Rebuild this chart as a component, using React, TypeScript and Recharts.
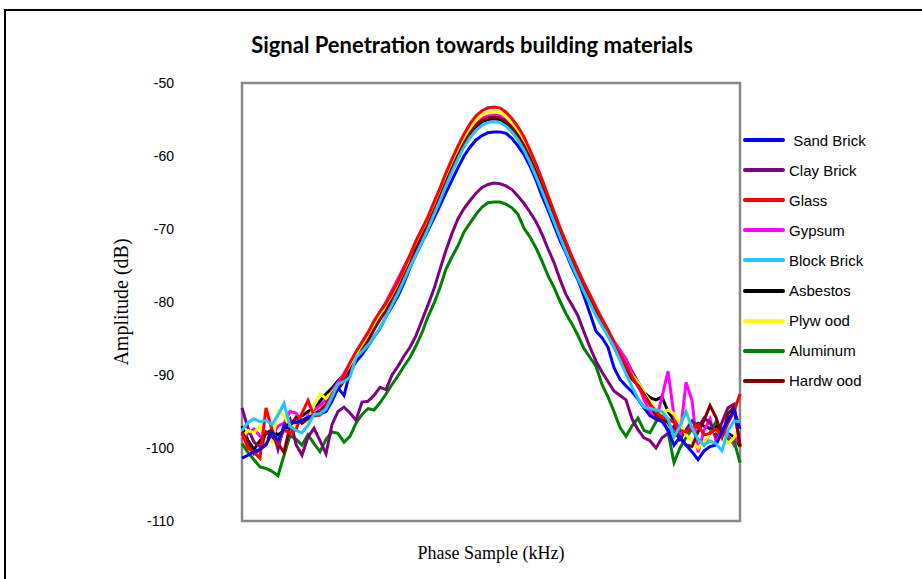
import React from 'react';
import { LineChart, Line, XAxis, YAxis, ReferenceArea, Label } from 'recharts';

// Sample index along the phase axis (84 samples)
const samples: number[] = Array.from({ length: 84 }, (_, i) => i);

const yTicks = [-50, -60, -70, -80, -90, -100, -110];

const sandBrick = [
  -101.4, -101.0, -100.5, -100.2, -99.6, -97.8, -99.0, -97.2, -96.6, -96.5, -96.2, -95.8,
  -95.5, -95.3, -95.0, -93.6, -91.8, -92.8, -89.6, -88.2, -87.2, -86.0, -84.8, -83.6,
  -82.0, -80.6, -79.2, -77.4, -75.3, -73.5, -71.8, -70.2, -68.5, -66.8, -65.0, -63.3,
  -61.6, -60.0, -58.8, -57.8, -57.2, -56.8, -56.7, -56.7, -56.9, -57.6, -58.6, -59.8,
  -61.4, -63.3, -65.5, -67.4, -69.5, -71.6, -73.3, -75.3, -77.0, -79.2, -81.6, -84.0,
  -84.9, -86.2, -89.0, -90.6, -91.5, -92.3, -93.3, -94.5, -95.6, -96.0, -96.4, -97.5,
  -99.6, -98.5, -99.6, -100.5, -101.6, -100.4, -99.8, -99.6, -97.8, -96.2, -94.8, -97.4,
];

const clayBrick = [
  -94.5, -97.3, -99.2, -99.8, -99.5, -97.3, -100.2, -96.8, -96.0, -99.5, -101.0, -98.5,
  -97.3, -99.0, -100.8, -96.8, -95.0, -94.4, -95.2, -96.2, -93.7, -93.6, -92.8, -91.7,
  -92.0, -90.0, -88.8, -87.4, -86.2, -84.6, -82.5, -80.4, -78.2, -75.5, -72.9, -70.6,
  -68.6, -67.2, -66.1, -65.1, -64.3, -63.9, -63.7, -63.8, -64.1, -64.6, -65.5, -66.5,
  -67.7, -69.0, -70.7, -72.7, -74.6, -76.9, -79.0, -80.4, -81.9, -84.1, -86.2, -88.1,
  -89.6, -90.9, -92.2, -92.8, -93.4, -96.0, -97.5, -98.6, -99.0, -100.0, -98.6, -98.0,
  -97.0, -98.8, -97.5, -96.3, -97.2, -95.9, -96.5, -98.4, -96.5, -94.5, -94.0, -99.8,
];

const glass = [
  -98.0, -100.0, -100.6, -101.4, -94.5, -97.5, -99.4, -97.5, -98.0, -97.5, -95.2, -93.5,
  -95.6, -95.5, -94.5, -92.6, -91.5, -90.0, -88.3, -86.8, -85.5, -84.2, -82.6, -81.3,
  -80.2, -78.7, -77.2, -75.4, -73.6, -71.6, -70.0, -68.3, -66.3, -64.4, -62.3, -60.4,
  -58.6, -57.0, -55.6, -54.5, -53.8, -53.4, -53.3, -53.4, -54.0, -54.9, -56.0, -57.4,
  -59.2, -61.1, -63.2, -65.4, -67.6, -69.8, -71.8, -73.8, -75.6, -77.4, -79.0, -80.7,
  -82.3, -83.8, -85.5, -87.2, -88.6, -90.2, -91.6, -92.8, -94.0, -95.0, -95.8, -96.0,
  -96.5, -97.6, -97.8, -97.2, -96.8, -98.2, -98.0, -97.4, -98.4, -96.6, -95.0, -92.6,
];

const gypsum = [
  -98.8, -98.0, -97.4, -98.4, -99.2, -98.2, -97.0, -96.6, -95.0, -95.2, -96.4, -95.6,
  -94.8, -94.2, -93.4, -92.2, -91.0, -89.8, -88.4, -87.0, -85.6, -84.2, -82.8, -81.4,
  -80.0, -78.4, -76.8, -75.2, -73.6, -71.8, -70.1, -68.5, -66.8, -64.9, -62.9, -61.0,
  -59.3, -57.7, -56.4, -55.4, -54.8, -54.5, -54.4, -54.5, -55.0, -55.8, -56.9, -58.3,
  -60.0, -61.9, -63.9, -66.0, -68.1, -70.2, -72.2, -74.1, -75.9, -77.7, -79.3, -80.9,
  -82.5, -84.0, -85.4, -86.6, -87.8, -89.6, -91.2, -93.4, -95.0, -96.2, -93.0, -89.5,
  -95.6, -98.4, -91.0, -93.5, -100.6, -97.6, -96.0, -99.0, -97.2, -98.2, -99.6, -98.0,
];

const blockBrick = [
  -97.6, -96.5, -96.0, -96.4, -96.2, -96.8, -95.5, -93.9, -97.0, -97.6, -97.9, -96.9,
  -95.4, -95.3, -94.7, -93.0, -91.2, -90.9, -90.3, -87.6, -86.8, -85.9, -84.8, -83.5,
  -82.0, -80.4, -78.8, -77.0, -75.2, -73.5, -71.8, -70.0, -68.0, -66.1, -64.1, -62.2,
  -60.4, -58.8, -57.5, -56.5, -55.8, -55.4, -55.3, -55.4, -55.9, -56.7, -57.8, -59.2,
  -60.9, -62.8, -64.8, -66.9, -69.0, -71.1, -73.1, -75.0, -76.8, -78.6, -80.2, -81.9,
  -83.3, -84.7, -86.2, -88.0, -89.8, -91.6, -93.2, -94.4, -94.6, -94.8, -95.0, -96.0,
  -98.5, -97.0, -95.0, -97.2, -98.8, -99.6, -99.0, -99.4, -100.4, -97.6, -96.3, -96.4,
];

const asbestos = [
  -97.0, -99.0, -100.2, -99.0, -98.0, -97.5, -98.2, -97.6, -96.8, -96.0, -95.6, -95.0,
  -94.6, -93.6, -92.6, -91.8, -90.8, -90.0, -89.2, -87.8, -86.4, -85.1, -83.6, -82.2,
  -81.0, -79.6, -78.0, -76.3, -74.6, -72.6, -70.9, -69.2, -67.3, -65.4, -63.4, -61.5,
  -59.8, -58.3, -57.0, -56.0, -55.3, -55.0, -54.9, -55.0, -55.5, -56.3, -57.4, -58.8,
  -60.5, -62.4, -64.4, -66.5, -68.6, -70.7, -72.7, -74.6, -76.4, -78.2, -79.8, -81.4,
  -83.0, -84.4, -85.6, -86.8, -88.0, -89.5, -91.0, -92.4, -93.1, -93.4, -93.0, -95.0,
  -96.2, -97.5, -98.0, -97.2, -96.6, -97.0, -97.3, -97.0, -97.6, -98.0, -98.5, -99.8,
];

const plywood = [
  -98.5, -97.6, -97.9, -97.0, -99.0, -99.2, -95.0, -95.5, -97.2, -96.8, -96.0, -96.6,
  -94.2, -92.6, -93.2, -92.4, -91.4, -90.4, -88.9, -87.4, -86.0, -84.8, -83.2, -81.8,
  -80.7, -79.2, -77.7, -75.9, -74.2, -72.2, -70.5, -68.8, -66.9, -65.0, -62.9, -61.0,
  -59.2, -57.6, -56.2, -55.1, -54.4, -54.0, -53.9, -54.0, -54.6, -55.5, -56.6, -58.0,
  -59.8, -61.7, -63.8, -66.0, -68.2, -70.3, -72.3, -74.3, -76.1, -77.9, -79.5, -81.2,
  -82.8, -84.4, -85.9, -87.5, -88.8, -90.0, -91.0, -92.4, -93.6, -94.8, -95.2, -94.8,
  -95.3, -96.6, -98.2, -99.0, -100.0, -99.2, -98.0, -97.6, -98.2, -99.4, -98.6, -97.0,
];

const aluminum = [
  -99.4, -100.6, -101.6, -102.6, -102.8, -103.2, -103.8, -101.0, -98.3, -98.8, -99.6, -98.2,
  -99.4, -100.5, -98.8, -97.8, -98.0, -99.2, -98.4, -96.6, -95.4, -94.6, -94.8, -93.8,
  -92.6, -91.3, -90.1, -88.8, -87.6, -86.0, -84.2, -82.0, -80.2, -78.0, -75.5, -73.8,
  -72.3, -70.4, -69.2, -68.0, -67.0, -66.4, -66.3, -66.3, -66.6, -67.1, -68.0, -69.9,
  -71.1, -72.6, -74.4, -76.4, -78.0, -79.9, -81.6, -83.0, -84.6, -86.4, -87.6, -88.8,
  -91.3, -93.0, -95.0, -97.2, -98.4, -97.0, -95.9, -97.6, -97.9, -96.4, -95.6, -97.8,
  -102.0, -100.0, -98.6, -97.4, -98.8, -99.6, -97.9, -96.4, -97.5, -98.8, -99.0, -102.0,
];

const hardwood = [
  -97.8, -99.2, -100.8, -100.2, -97.8, -98.4, -99.4, -100.6, -97.0, -95.8, -96.6, -96.0,
  -95.4, -94.8, -94.0, -92.8, -92.0, -90.8, -89.4, -88.0, -86.6, -85.3, -83.8, -82.4,
  -81.2, -79.8, -78.3, -76.5, -74.8, -72.7, -71.0, -69.4, -67.5, -65.6, -63.6, -61.7,
  -59.9, -58.3, -56.9, -55.8, -55.1, -54.8, -54.7, -54.8, -55.3, -56.1, -57.2, -58.6,
  -60.3, -62.2, -64.2, -66.3, -68.5, -70.6, -72.6, -74.5, -76.3, -78.1, -79.7, -81.4,
  -83.1, -84.6, -86.2, -87.8, -89.4, -90.6, -91.4, -92.6, -94.0, -95.6, -96.0, -96.5,
  -98.0, -98.6, -99.6, -99.8, -97.8, -96.2, -94.2, -95.8, -98.4, -95.3, -94.4, -99.8,
];

const seriesNames = [
  'Sand Brick', 'Clay Brick', 'Glass', 'Gypsum', 'Block Brick',
  'Asbestos', 'Plywood', 'Aluminum', 'Hardwood',
];

const seriesDefs = [
  { key: 'sandBrick', name: seriesNames[0], legendLabel: ' Sand Brick', color: '#0000FF', values: sandBrick },
  { key: 'clayBrick', name: seriesNames[1], legendLabel: 'Clay Brick', color: '#800080', values: clayBrick },
  { key: 'glass', name: seriesNames[2], legendLabel: 'Glass', color: '#FF0000', values: glass },
  { key: 'gypsum', name: seriesNames[3], legendLabel: 'Gypsum', color: '#FF00FF', values: gypsum },
  { key: 'blockBrick', name: seriesNames[4], legendLabel: 'Block Brick', color: '#1EC8FF', values: blockBrick },
  { key: 'asbestos', name: seriesNames[5], legendLabel: 'Asbestos', color: '#000000', values: asbestos },
  { key: 'plywood', name: seriesNames[6], legendLabel: 'Plyw ood', color: '#FFFF00', values: plywood },
  { key: 'aluminum', name: seriesNames[7], legendLabel: 'Aluminum', color: '#008000', values: aluminum },
  { key: 'hardwood', name: seriesNames[8], legendLabel: 'Hardw ood', color: '#800000', values: hardwood },
];

const drawOrder = ['asbestos', 'gypsum', 'aluminum', 'clayBrick', 'plywood', 'hardwood', 'glass', 'sandBrick', 'blockBrick'];

const data = samples.map((i) => {
  const row: Record<string, number> = { i };
  seriesDefs.forEach((s) => {
    row[s.key] = s.values[i];
  });
  return row;
});

const sansFont = '"Liberation Sans", Arial, sans-serif';
const serifFont = '"Liberation Serif", "Times New Roman", serif';

const ChartLegend = () => (
  <div style={{ position: 'absolute', left: 743, top: 125, width: 175, fontFamily: sansFont, fontSize: 15, color: '#000' }}>
    {seriesDefs.map((s) => (
      <div key={s.key} style={{ display: 'flex', alignItems: 'center', height: 30.1 }}>
        <div style={{ width: 42, height: 4, background: s.color, borderRadius: 2, marginRight: 4 }} />
        <span style={{ whiteSpace: 'pre' }}>{s.legendLabel}</span>
      </div>
    ))}
  </div>
);

export default function App() {
  return (
    <div style={{ position: 'absolute', left: 0, top: 0, width: 922, height: 579, background: '#fff', overflow: 'hidden' }}>
      <div
        style={{
          position: 'absolute', left: 4, top: 9, width: 1000, height: 700,
          borderTop: '2px solid #000', borderLeft: '2px solid #000',
        }}
      />
      <div
        style={{
          position: 'absolute', left: 0, top: 31, width: 944, textAlign: 'center',
          fontFamily: 'Lato, "Open Sans", sans-serif', fontWeight: 700, fontSize: 22, color: '#000',
        }}
      >
        Signal Penetration towards building materials
      </div>
      <div style={{ position: 'absolute', left: 0, top: 0 }}>
        <LineChart width={922} height={579} data={data} margin={{ top: 83, right: 182, bottom: 0, left: 0 }}>
          <XAxis
            type="number"
            dataKey="i"
            domain={[0, 83]}
            tick={false}
            axisLine={false}
            tickLine={false}
            height={58}
          >
            <Label
              value="Phase Sample (kHz)"
              position="center"
              dy={3}
              style={{ fontFamily: serifFont, fontSize: 18, fill: '#000' }}
            />
          </XAxis>
          <YAxis
            type="number"
            domain={[-110, -50]}
            ticks={yTicks}
            width={242}
            axisLine={false}
            tickLine={false}
            tickMargin={62}
            tick={{ fontFamily: sansFont, fontSize: 14, fill: '#000' }}
          >
            <Label
              value="Amplitude (dB)"
              angle={-90}
              position="center"
              style={{ fontFamily: serifFont, fontSize: 20, fill: '#000' }}
            />
          </YAxis>
          <ReferenceArea x1={0} x2={83} y1={-110} y2={-50} fill="none" stroke="#888888" strokeWidth={2.5} />
          {drawOrder.map((k) => {
            const s = seriesDefs.find((d) => d.key === k)!;
            return (
              <Line
                key={s.key}
                type="linear"
                dataKey={s.key}
                name={s.name}
                stroke={s.color}
                strokeWidth={3}
                dot={false}
                activeDot={false}
                isAnimationActive={false}
              />
            );
          })}
        </LineChart>
      </div>
      <ChartLegend />
    </div>
  );
}
